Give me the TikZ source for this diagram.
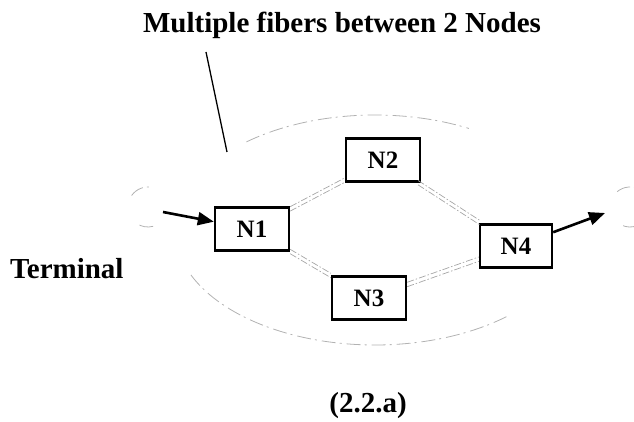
\documentclass[tikz,border=0pt]{standalone}
\usepackage{fontspec}
\setmainfont{Liberation Serif}
\usetikzlibrary{arrows.meta}
\begin{document}
\begin{tikzpicture}[x=1pt,y=-1pt,
  nodebox/.style={draw, line width=2.4pt, minimum width=74pt, minimum height=43pt, inner sep=0pt, font=\fontsize{25}{28}\selectfont\bfseries},
  fiber/.style={draw=gray!70, line width=0.7pt, dash pattern=on 7pt off 2pt on 1.5pt off 2pt},
  faint/.style={draw=gray!60, line width=0.8pt, dash pattern=on 14pt off 4pt on 2pt off 5pt},
  bigarrow/.style={line width=2.6pt, -{Triangle[length=16pt,width=13pt]}},
  label/.style={font=\fontsize{29}{32}\selectfont\bfseries, inner sep=0pt}]
\useasboundingbox (0,0) rectangle (634,422);
% big fiber ellipse (two arcs)
\draw[faint] (375,230) ++(230:200 and 115) arc[start angle=230, end angle=298, x radius=200, y radius=115];
\draw[faint] (375,230) ++(157:200 and 115) arc[start angle=157, end angle=48, x radius=200, y radius=115];
% terminals (partly visible)
\draw[faint] (148,207) ++(215:20) arc[start angle=215, end angle=285, radius=20];
\draw[faint] (148,207) ++(75:20) arc[start angle=75, end angle=125, radius=20];
\draw[faint] (630,207) ++(230:20) arc[start angle=230, end angle=300, radius=20];
\draw[faint] (630,207) ++(70:20) arc[start angle=70, end angle=115, radius=20];
% nodes
\node[nodebox] (N1) at (252,229) {N1};
\node[nodebox] (N2) at (383,160) {N2};
\node[nodebox] (N3) at (369,298) {N3};
\node[nodebox, minimum width=72pt] (N4) at (516,246) {N4};
% fibers
\foreach \s in {-2.2,2.2}{
  \draw[fiber, transform canvas={yshift=\s pt}] (N1) -- (N2);
  \draw[fiber, transform canvas={yshift=\s pt}] (N1) -- (N3);
  \draw[fiber, transform canvas={yshift=\s pt}] (N2) -- (N4);
  \draw[fiber, transform canvas={yshift=\s pt}] (N3) -- (N4);
}
% arrows
\coordinate (tin) at (163,212);
\coordinate (tout) at (605,213);
\draw[bigarrow] (tin) -- (N1);
\draw[bigarrow] (N4) -- (tout);
% labels
\node[label, anchor=base] (title) at (342,33) {Multiple fibers between 2 Nodes};
\coordinate (lead) at (227,152);
\draw[line width=1.3pt] (206,52) -- (lead);
\node[label, anchor=base west] (term) at (10,278) {Terminal};
\node[label, anchor=base] (cap) at (368,412) {(2.2.a)};
\end{tikzpicture}
\end{document}
